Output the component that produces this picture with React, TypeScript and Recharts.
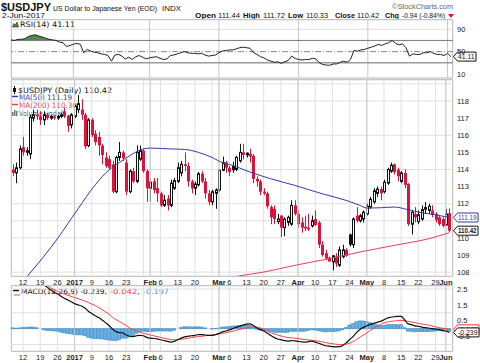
import React from "react";
import { ComposedChart, Bar, Line, Area, XAxis, YAxis, CartesianGrid, ReferenceLine } from "recharts";

const FONT = "'Liberation Sans', Arial, sans-serif";
const LEG = "'DejaVu Sans', Verdana, sans-serif";
const RED = "#dc143c";
const BLUE = "#3838a8";
const PINK = "#e8405e";
const GRID = "#e0e0e0";
const MONTH_LINE = "#c8c8c8";

// trading days shown, Dec 7 2016 .. Jun 2 2017
const decDays = [7, 8, 9, 12, 13, 14, 15, 16, 19, 20, 21, 22, 23, 26, 27, 28, 29, 30];
const janDays = [2, 3, 4, 5, 6, 9, 10, 11, 12, 13, 16, 17, 18, 19, 20, 23, 24, 25, 26, 27, 30, 31];
const febDays = [1, 2, 3, 6, 7, 8, 9, 10, 13, 14, 15, 16, 17, 20, 21, 22, 23, 24, 27, 28];
const marDays = [1, 2, 3, 6, 7, 8, 9, 10, 13, 14, 15, 16, 17, 20, 21, 22, 23, 24, 27, 28, 29, 30, 31];
const aprDays = [3, 4, 5, 6, 7, 10, 11, 12, 13, 14, 17, 18, 19, 20, 21, 24, 25, 26, 27, 28];
const mayDays = [1, 2, 3, 4, 5, 8, 9, 10, 11, 12, 15, 16, 17, 18, 19, 22, 23, 24, 25, 26, 29, 30, 31];
const junDays = [1, 2];

const tickKeys = ["12-12", "12-19", "12-26", "1-2", "1-9", "1-16", "1-23", "1-30", "2-1", "2-6", "2-13", "2-20", "2-27", "3-1", "3-6", "3-13", "3-20", "3-27", "4-3", "4-10", "4-17", "4-24", "5-1", "5-8", "5-15", "5-22", "5-29", "6-1"];
const tickText = ["12", "19", "26", "2017", "9", "16", "23", "", "Feb", "6", "13", "20", "", "Mar", "6", "13", "20", "27", "Apr", "10", "17", "24", "May", "8", "15", "22", "29", "Jun"];
const monthKeys = ["1-2", "2-1", "3-1", "4-3", "5-1", "6-1"];

const open = [114.0, 113.8, 114.1, 115.3, 115.0, 114.9, 117.0, 117.2, 117.1, 116.9,
  117.2, 117.0, 117.1, 117.0, 117.1, 117.4, 117.15, 116.6, 117.1, 117.5,
  117.5, 117.2, 115.4, 116.9, 116.1, 115.9, 115.4, 114.7, 114.6, 114.3,
  112.7, 114.7, 115.0, 114.4, 112.7, 113.9, 113.3, 114.6, 115.1, 113.9,
  112.9, 113.3, 112.9, 112.6, 111.9, 112.3, 111.9, 112.9, 113.3, 113.8,
  114.3, 114.2, 113.3, 112.9, 113.1, 113.75, 113.3, 112.6, 112.1, 112.6,
  112.8, 113.95, 114.4, 114.1, 114.2, 114.0, 114.5, 115.0, 114.85, 114.9,
  114.8, 113.45, 113.3, 112.7, 112.6, 111.8, 111.7, 110.95, 111.3, 110.6,
  110.9, 110.8, 111.9, 111.4, 110.9, 110.65, 110.6, 110.7, 111.1, 110.9,
  109.6, 109.1, 108.85, 108.6, 108.9, 108.4, 108.9, 109.3, 110.2, 109.6,
  111.3, 111.0, 111.1, 111.4, 111.8, 112.1, 112.6, 112.85, 112.7, 113.2,
  113.9, 114.3, 114.0, 113.3, 113.8, 113.15, 110.8, 111.4, 110.95, 111.1,
  111.8, 111.6, 111.6, 111.4, 111.2, 111.1, 110.75, 111.44];
const high = [114.3, 114.4, 115.4, 115.9, 115.3, 117.2, 117.5, 117.5, 117.4, 117.4,
  117.3, 117.2, 117.2, 117.2, 117.3, 117.6, 117.2, 117.3, 117.8, 118.35,
  118.1, 117.3, 117.0, 117.0, 116.3, 116.2, 115.5, 115.0, 114.8, 114.5,
  114.8, 115.6, 115.1, 114.6, 114.0, 114.1, 115.4, 115.4, 115.2, 114.0,
  113.4, 113.5, 113.5, 112.7, 112.5, 112.5, 113.4, 113.5, 114.4, 114.5,
  115.0, 114.4, 113.4, 113.3, 113.85, 113.9, 113.5, 112.8, 112.8, 112.9,
  114.0, 114.75, 114.5, 114.2, 114.45, 114.8, 115.5, 115.5, 115.0, 115.2,
  114.9, 113.6, 113.4, 112.9, 112.7, 111.9, 111.9, 111.4, 111.35, 111.2,
  111.3, 112.2, 112.2, 111.6, 111.2, 111.3, 111.4, 111.3, 111.6, 111.0,
  109.8, 109.3, 108.9, 109.0, 109.1, 109.5, 109.6, 109.4, 110.25, 111.2,
  111.8, 111.4, 111.6, 112.0, 112.4, 112.9, 113.0, 113.0, 113.4, 114.1,
  114.4, 114.35, 114.1, 113.9, 114.0, 113.2, 111.6, 111.8, 111.6, 111.9,
  112.1, 112.0, 111.9, 111.5, 111.3, 111.2, 111.7, 111.72];
const low = [113.6, 113.2, 114.0, 114.8, 114.8, 114.6, 116.8, 116.9, 116.6, 116.6,
  116.9, 116.9, 116.9, 116.9, 117.0, 117.0, 116.2, 116.4, 117.0, 117.3,
  116.9, 115.2, 115.3, 115.9, 115.4, 114.8, 114.3, 114.1, 114.0, 112.6,
  112.6, 114.5, 114.5, 112.5, 112.6, 113.2, 113.2, 114.5, 113.8, 112.1,
  112.1, 112.6, 112.1, 111.8, 111.8, 111.6, 111.8, 112.8, 113.2, 113.6,
  113.9, 113.0, 112.6, 112.5, 113.0, 113.2, 112.3, 111.9, 111.9, 111.7,
  112.7, 113.9, 113.8, 113.6, 113.8, 113.9, 114.4, 114.6, 114.7, 114.4,
  113.2, 113.0, 112.5, 112.5, 111.7, 110.8, 110.8, 110.8, 110.05, 110.1,
  110.7, 110.7, 111.3, 110.6, 110.3, 110.4, 110.4, 110.6, 110.7, 109.4,
  108.9, 108.7, 108.6, 108.1, 108.3, 108.3, 108.8, 108.9, 109.5, 109.4,
  110.9, 110.9, 110.9, 111.3, 111.7, 112.0, 112.4, 112.2, 112.6, 113.1,
  113.8, 113.7, 113.3, 113.2, 112.9, 110.7, 110.2, 110.9, 110.8, 111.0,
  111.4, 111.4, 111.2, 110.9, 110.7, 110.6, 110.7, 110.33];
const close = [113.8, 114.1, 115.2, 115.0, 115.1, 117.05, 117.2, 117.1, 116.9, 117.2,
  117.0, 117.1, 117.0, 117.1, 117.2, 117.1, 116.55, 117.2, 117.7, 117.85,
  117.2, 115.35, 116.9, 116.0, 115.6, 115.4, 114.85, 114.2, 114.1, 112.7,
  114.7, 115.0, 114.65, 112.7, 113.9, 113.3, 115.0, 115.1, 113.9, 112.9,
  113.25, 112.8, 112.6, 111.9, 112.2, 111.9, 113.2, 113.35, 114.1, 114.3,
  114.2, 113.3, 112.9, 113.15, 113.75, 113.3, 112.6, 112.1, 112.7, 112.8,
  113.95, 114.4, 114.1, 113.85, 113.95, 114.7, 115.0, 114.85, 114.95, 114.75,
  113.45, 113.3, 112.7, 112.6, 111.85, 111.2, 111.1, 111.1, 110.6, 111.1,
  111.2, 111.9, 111.4, 110.8, 110.6, 110.55, 110.5, 111.0, 110.75, 109.6,
  109.0, 108.8, 108.62, 108.95, 108.5, 109.3, 109.3, 108.95, 109.6, 111.1,
  111.0, 111.3, 111.5, 111.85, 112.25, 112.75, 112.85, 112.6, 113.25, 114.0,
  114.25, 113.85, 113.6, 113.8, 113.1, 110.8, 111.5, 111.2, 111.35, 111.65,
  111.65, 111.85, 111.35, 111.05, 110.8, 110.7, 111.4, 110.42];

// moving averages, read at sample days (index into the day list)
const ma50Idx = [0, 4, 9, 13, 19, 24, 28, 31, 34, 37, 40, 46, 50, 54, 58, 61, 63, 69, 75, 82, 90, 97, 101, 103, 107, 111, 115, 119, 123, 127];
const ma50Val = [106.7, 107.7, 108.9, 109.95, 111.7, 113.1, 113.97, 114.4, 114.8, 115.13, 115.25, 115.2, 115.17, 115.0, 114.7, 114.4, 114.3, 113.85, 113.46, 113.07, 112.58, 112.19, 111.9, 111.74, 111.76, 111.8, 111.65, 111.47, 111.35, 111.19];
const ma200Idx = [60, 66, 73, 82, 92, 101, 111, 121, 127];
const ma200Val = [107.55, 107.78, 108.0, 108.39, 108.78, 109.17, 109.56, 109.95, 110.3];

const rsi14 = [71, 70, 72, 72, 73, 77, 79, 80, 78, 76, 74, 72, 71, 70, 67, 66, 59, 61, 63, 65,
  63, 48, 54, 51, 49, 48, 46, 45, 43, 33, 44, 45, 42, 37, 40, 36, 41, 43, 40, 37,
  39, 40, 41, 38, 36, 37, 43, 44, 46, 48, 50, 48, 47, 47, 46, 47, 44, 42, 43, 44,
  48, 51, 52, 53, 53, 55, 57, 58, 57, 56, 48, 45, 41, 39, 35, 33, 31, 32, 29, 32,
  34, 42, 38, 36, 35, 36, 36, 38, 37, 30, 27, 26, 25.7, 28, 28, 31, 33, 31, 36, 52,
  51, 53, 54, 56, 58, 60, 63, 61, 64, 66, 70, 65, 62, 64, 57, 42, 46, 45, 45, 48,
  48, 50, 47, 45, 45, 43, 47, 41.11];

const macdLine = [2.85, 2.83, 2.86, 2.9, 2.92, 2.98, 3.0, 2.98, 2.9, 2.78,
  2.62, 2.46, 2.3, 2.2, 2.05, 1.92, 1.81, 1.7, 1.58, 1.5,
  1.43, 1.3, 1.1, 0.95, 0.82, 0.7, 0.55, 0.38, 0.2, -0.02,
  -0.18, -0.25, -0.27, -0.4, -0.48, -0.5, -0.45, -0.42, -0.45, -0.55,
  -0.6, -0.62, -0.65, -0.7, -0.75, -0.8, -0.85, -0.8, -0.7, -0.6,
  -0.52, -0.48, -0.45, -0.42, -0.38, -0.38, -0.4, -0.43, -0.42, -0.38,
  -0.3, -0.2, -0.15, -0.08, 0.0, 0.08, 0.15, 0.22, 0.28, 0.3,
  0.2, 0.06, -0.05, -0.15, -0.27, -0.42, -0.55, -0.65, -0.69, -0.76,
  -0.79, -0.75, -0.77, -0.8, -0.83, -0.85, -0.82, -0.79, -0.85, -0.92,
  -1.0, -1.08, -1.1, -1.13, -1.15, -1.14, -1.06, -0.9, -0.69, -0.5,
  -0.25, -0.06, 0.08, 0.18, 0.27, 0.33, 0.4, 0.46, 0.56, 0.67,
  0.72, 0.75, 0.77, 0.77, 0.56, 0.3, 0.25, 0.18, 0.15, 0.1,
  0.06, 0.04, 0.0, -0.03, -0.06, -0.12, -0.15, -0.239];
const macdSignal = [2.8, 2.8, 2.81, 2.82, 2.84, 2.87, 2.9, 2.92, 2.9, 2.85,
  2.74, 2.58, 2.45, 2.36, 2.27, 2.19, 2.11, 2.03, 1.96, 1.89,
  1.82, 1.74, 1.65, 1.55, 1.45, 1.33, 1.2, 1.06, 0.92, 0.72,
  0.58, 0.45, 0.33, 0.2, 0.05, -0.06, -0.15, -0.24, -0.29, -0.35,
  -0.4, -0.45, -0.5, -0.55, -0.6, -0.65, -0.69, -0.7, -0.7, -0.67,
  -0.64, -0.6, -0.56, -0.53, -0.5, -0.48, -0.45, -0.43, -0.4, -0.37,
  -0.34, -0.3, -0.26, -0.21, -0.16, -0.1, -0.05, 0.0, 0.05, 0.1,
  0.12, 0.1, 0.05, -0.05, -0.15, -0.25, -0.33, -0.4, -0.46, -0.52,
  -0.56, -0.58, -0.6, -0.63, -0.66, -0.69, -0.71, -0.73, -0.76, -0.79,
  -0.83, -0.88, -0.92, -0.95, -0.98, -1.0, -1.0, -0.98, -0.92, -0.82,
  -0.69, -0.55, -0.4, -0.27, -0.12, 0.02, 0.15, 0.27, 0.36, 0.42,
  0.46, 0.48, 0.52, 0.52, 0.5, 0.46, 0.42, 0.38, 0.33, 0.29,
  0.25, 0.22, 0.17, 0.12, 0.06, 0.02, 0.01, -0.042];

const months: [number, number[]][] = [[12, decDays], [1, janDays], [2, febDays], [3, marDays], [4, aprDays], [5, mayDays], [6, junDays]];
const dayKeys = months.flatMap(([m, ds]) => ds.map((d) => `${m}-${d}`));

const rows = dayKeys.map((d, i) => {
  const a = ma50Idx.indexOf(i);
  const b = ma200Idx.indexOf(i);
  return {
    d,
    o: open[i], h: high[i], l: low[i], c: close[i],
    pc: i > 0 ? close[i - 1] : open[i],
    ma50: a >= 0 ? ma50Val[a] : null,
    ma200: b >= 0 ? ma200Val[b] : null,
    rsi: rsi14[i],
    rsiHi: Math.max(rsi14[i], 70),
    macd: macdLine[i],
    sig: macdSignal[i],
    hist: +(macdLine[i] - macdSignal[i]).toFixed(3),
  };
});

const W = 480;
const MARGIN_X = { left: 11, right: 0 };
const XPAD = { left: 0, right: 2 };

function Candle(props: any) {
  const { x, y, width, height, payload } = props;
  if (!payload) return null;
  const { o, h, l, c, pc } = payload;
  const top = Math.min(y, y + height);
  const bot = Math.max(y, y + height);
  const span = h - l;
  const py = (v: number) => (span > 0 ? top + ((h - v) / span) * (bot - top) : top);
  const cx = Math.round(x + width / 2);
  const color = c >= pc ? "#111" : RED;
  const yo = py(o);
  const yc = py(c);
  const bt = Math.min(yo, yc);
  const bh = Math.max(Math.abs(yo - yc), 1);
  return (
    <g>
      <line x1={cx + 0.5} x2={cx + 0.5} y1={top} y2={bot} stroke={color} strokeWidth={1} />
      {c >= o ? (
        <rect x={cx - 0.5} y={bt} width={2} height={bh} fill="#fff" stroke={color} strokeWidth={1} />
      ) : (
        <rect x={cx - 1} y={bt} width={3} height={bh} fill={color} />
      )}
    </g>
  );
}

function DateTick(props: any) {
  const { x, y, payload } = props;
  const k = tickKeys.indexOf(payload.value);
  const label = k >= 0 ? tickText[k] : "";
  const bold = /[A-Za-z]/.test(label) || label === "2017";
  return (
    <text x={x} y={y + 7} textAnchor="middle" fontSize={7.5} fontWeight={bold ? 700 : 400} fill="#222" fontFamily={FONT}>
      {label}
    </text>
  );
}

function Tag(props: any) {
  const { viewBox, text, color, bold, w } = props;
  if (!viewBox) return null;
  const x = viewBox.x + viewBox.width;
  const y = viewBox.y;
  const hh = 4.5;
  return (
    <g>
      <path
        d={`M${x + 0.5},${y} L${x + 4.5},${y - hh} L${x + w},${y - hh} L${x + w},${y + hh} L${x + 4.5},${y + hh} Z`}
        fill="#fff"
        stroke={color}
        strokeWidth={1}
      />
      <text x={x + 5} y={y + 2.7} fontSize={7} fontFamily={FONT} fontWeight={bold ? 700 : 400} fill={color} textLength={w - 6.5} lengthAdjust="spacingAndGlyphs">
        {text}
      </text>
    </g>
  );
}

const axisTick = { fontSize: 7.5, fill: "#222", fontFamily: FONT };

function T(p: any) {
  const { x, y, w, s, b, c, f, children } = p;
  return (
    <text x={x} y={y} fontSize={s} fontWeight={b ? 700 : 400} fill={c || "#111"} fontFamily={f || FONT} textLength={w} lengthAdjust="spacingAndGlyphs">
      {children}
    </text>
  );
}

function Backdrop() {
  return (
    <svg width={W} height={363} style={{ position: "absolute", left: 0, top: 0 }}>
      <T x={1} y={10.5} w={50} s={11} b>$USDJPY</T>
      <T x={53} y={10.5} w={104} s={7.2}>US Dollar to Japanese Yen (EOD)</T>
      <T x={162} y={10.5} w={19} s={6.5}>INDX</T>
      <T x={392} y={8.5} w={61} s={7.5} c="#666">©StockCharts.com</T>
      <T x={2} y={18} w={43} s={8}>2-Jun-2017</T>
      <T x={195} y={18} w={21} s={8} b>Open</T>
      <T x={218} y={18} w={22} s={7.5}>111.44</T>
      <T x={243} y={18} w={17} s={8} b>High</T>
      <T x={263} y={18} w={22} s={7.5}>111.72</T>
      <T x={288} y={18} w={15} s={8} b>Low</T>
      <T x={306} y={18} w={22} s={7.5}>110.33</T>
      <T x={335} y={18} w={20} s={8} b>Close</T>
      <T x={357} y={18} w={22} s={7.5}>110.42</T>
      <T x={385} y={18} w={14} s={8} b>Chg</T>
      <T x={402} y={18} w={43} s={6.8}>-0.94 (-0.84%)</T>
      <polygon points="448,14 454,14 451,18" fill={RED} />

      <rect x={11.5} y={19.5} width={441} height={58.5} fill="none" stroke="#a8a8a8" />
      <rect x={11.5} y={79.5} width={441} height={197} fill="none" stroke="#a8a8a8" />
      <rect x={11.5} y={285.5} width={441} height={66} fill="none" stroke="#a8a8a8" />

      <polygon points="12.5,27 14,23.5 15.5,25 17,22 18.5,27" fill="#4e8a4e" stroke="#222" strokeWidth={0.6} />
      <T x={20} y={26.5} w={55} s={7.5} f={LEG}>RSI(14) 41.11</T>

      <line x1={14.5} x2={14.5} y1={86} y2={94} stroke="#111" />
      <rect x={13} y={88} width={3} height={4} fill="#111" />
      <T x={18} y={93} w={94} s={7.5} f={LEG}>$USDJPY (Daily) 110.42</T>
      <line x1={12} x2={18} y1={96.5} y2={96.5} stroke={BLUE} strokeWidth={1.5} />
      <T x={19} y={99.5} w={53} s={7.5} f={LEG} c={BLUE}>MA(50) 111.19</T>
      <line x1={12} x2={18} y1={104.5} y2={104.5} stroke={PINK} strokeWidth={1.5} />
      <T x={19} y={107.5} w={58} s={7.5} f={LEG} c={PINK}>MA(200) 110.30</T>
      <rect x={12} y={112} width={1.5} height={4} fill="#777" />
      <rect x={14} y={110} width={1.5} height={6} fill="#777" />
      <rect x={16} y={111} width={1.5} height={5} fill="#777" />
      <T x={19} y={116} w={44} s={7.5} f={LEG} c="#555">Volume undef</T>

      <line x1={13} x2={19} y1={290.5} y2={290.5} stroke="#111" strokeWidth={1.5} />
      <line x1={14} x2={20} y1={295} y2={295} stroke="#ff4040" strokeWidth={1} />
      <T x={21} y={293.5} w={86} s={7.2} f={LEG}>MACD(12,26,9) -0.239,</T>
      <T x={110} y={293.5} w={30} s={7.2} f={LEG} c="#ff3030">-0.042,</T>
      <T x={143} y={293.5} w={26} s={7.2} f={LEG} c="#3a9ad9">-0.197</T>
    </svg>
  );
}

function RsiPanel() {
  return (
    <div style={{ position: "absolute", left: 0, top: 0 }}>
      <ComposedChart width={W} height={80} data={rows} margin={{ top: 20, bottom: 2, ...MARGIN_X }}>
        <CartesianGrid stroke={GRID} />
        <XAxis dataKey="d" ticks={tickKeys} interval={0} tick={false} axisLine={false} tickLine={false} height={0} padding={XPAD} />
        <YAxis orientation="right" width={27} domain={[2.9, 106.5]} ticks={[10, 30, 50, 70, 90]} allowDataOverflow tick={axisTick} tickLine={false} axisLine={false} tickSize={0} tickMargin={4} />
        {monthKeys.map((k) => (
          <ReferenceLine key={k} x={k} stroke={MONTH_LINE} />
        ))}
        <ReferenceLine y={70} stroke="#777" />
        <ReferenceLine y={30} stroke="#777" />
        <ReferenceLine y={50} stroke="#888" strokeDasharray="6 2 1 2" />
        <Area dataKey="rsiHi" baseValue={70} type="linear" stroke="none" fill="#4e8a4e" fillOpacity={1} isAnimationActive={false} />
        <Line dataKey="rsi" type="linear" stroke="#222" strokeWidth={1} dot={false} isAnimationActive={false} />
        <ReferenceLine y={41.11} stroke="none" label={<Tag text="41.11" color="#111" w={23} />} />
      </ComposedChart>
    </div>
  );
}

function PricePanel() {
  return (
    <div style={{ position: "absolute", left: 0, top: 0 }}>
      <ComposedChart width={W} height={290} data={rows} margin={{ top: 80, bottom: 0, ...MARGIN_X }}>
        <CartesianGrid stroke={GRID} />
        <XAxis dataKey="d" ticks={tickKeys} interval={0} tick={<DateTick />} axisLine={false} tickLine={false} tickSize={0} height={14} padding={XPAD} />
        <YAxis
          orientation="right"
          width={27}
          domain={[107.77, 119.23]}
          ticks={[108, 109, 110, 111, 112, 113, 114, 115, 116, 117, 118, 119]}
          tickFormatter={(v: number) => (v === 119 || v === 111 ? "" : String(v))}
          allowDataOverflow
          tick={axisTick}
          tickLine={false}
          axisLine={false}
          tickSize={0}
          tickMargin={4}
        />
        {monthKeys.map((k) => (
          <ReferenceLine key={k} x={k} stroke={MONTH_LINE} />
        ))}
        <Line dataKey="ma200" type="monotone" stroke={PINK} strokeWidth={1} dot={false} connectNulls isAnimationActive={false} />
        <Line dataKey="ma50" type="monotone" stroke={BLUE} strokeWidth={1} dot={false} connectNulls isAnimationActive={false} />
        <Bar dataKey={(r: any) => [r.l, r.h]} shape={<Candle />} isAnimationActive={false} />
        <ReferenceLine y={111.19} stroke="none" label={<Tag text="111.19" color={BLUE} w={25} />} />
        <ReferenceLine y={110.42} stroke="none" label={<Tag text="110.42" color="#111" bold w={25} />} />
      </ComposedChart>
    </div>
  );
}

function MacdPanel() {
  return (
    <div style={{ position: "absolute", left: 0, top: 0 }}>
      <ComposedChart width={W} height={363} data={rows} margin={{ top: 286, bottom: 0, ...MARGIN_X }} barCategoryGap={0}>
        <CartesianGrid stroke={GRID} />
        <XAxis dataKey="d" ticks={tickKeys} interval={0} tick={<DateTick />} axisLine={false} tickLine={false} tickSize={0} height={12} padding={XPAD} />
        <YAxis
          orientation="right"
          width={27}
          domain={[-1.41, 2.69]}
          ticks={[-1, -0.5, 0, 0.5, 1, 1.5, 2, 2.5]}
          tickFormatter={(v: number) => (v === 0 ? "" : v.toFixed(1))}
          allowDataOverflow
          tick={axisTick}
          tickLine={false}
          axisLine={false}
          tickSize={0}
          tickMargin={4}
        />
        {monthKeys.map((k) => (
          <ReferenceLine key={k} x={k} stroke={MONTH_LINE} />
        ))}
        <Bar dataKey="hist" fill="#6cb4e4" stroke="#2f82c2" strokeWidth={0.6} barSize={3} isAnimationActive={false} />
        <Line dataKey="sig" type="monotone" stroke="#ff4040" strokeWidth={1} dot={false} isAnimationActive={false} />
        <Line dataKey="macd" type="monotone" stroke="#111" strokeWidth={1.2} dot={false} isAnimationActive={false} />
        <ReferenceLine y={-0.042} stroke="none" label={<Tag text="-0.042" color="#ff3030" w={26} />} />
        <ReferenceLine y={-0.239} stroke="none" label={<Tag text="-0.239" color="#111" w={26} />} />
      </ComposedChart>
    </div>
  );
}

export default function App() {
  return (
    <div style={{ position: "absolute", left: 0, top: 0, width: W, height: 363, background: "#fff", overflow: "hidden" }}>
      <Backdrop />
      <RsiPanel />
      <PricePanel />
      <MacdPanel />
    </div>
  );
}
